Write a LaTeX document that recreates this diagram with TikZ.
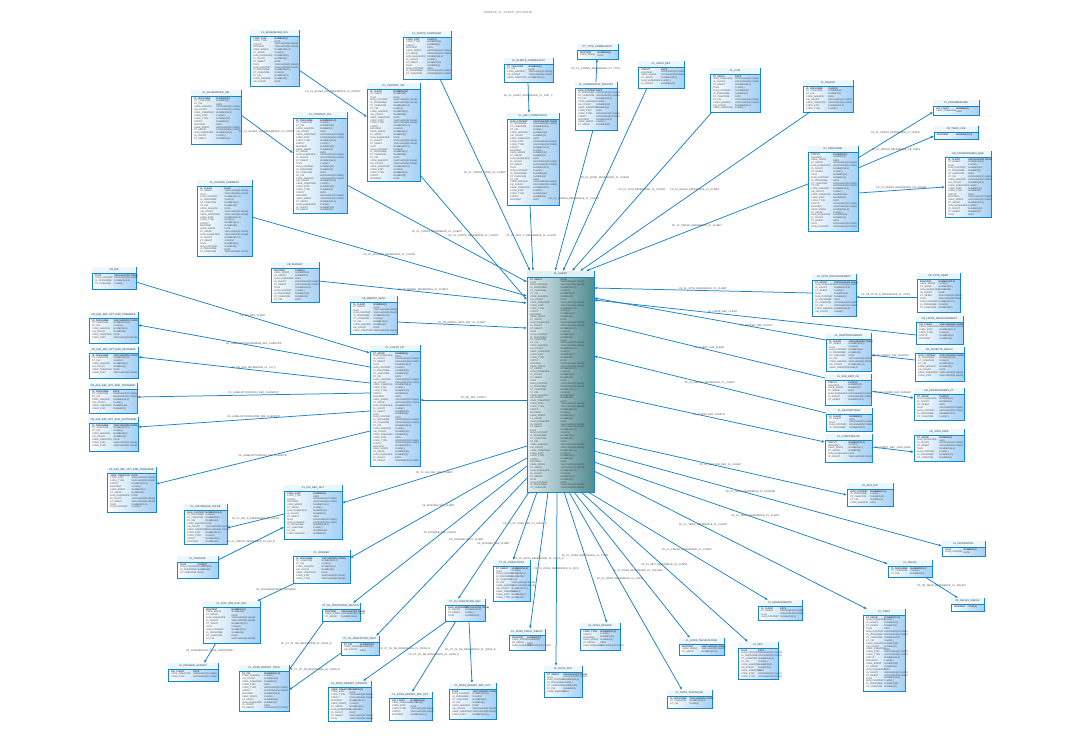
\documentclass[tikz,border=0pt]{standalone}
\usepackage{fontspec}
\setmainfont{Liberation Sans}
\usetikzlibrary{arrows.meta,calc}
\definecolor{tb}{RGB}{20,135,205}
\definecolor{tbl}{RGB}{165,208,245}
\definecolor{tbh}{RGB}{236,246,253}
\definecolor{fkc}{RGB}{25,130,200}
\definecolor{vl}{RGB}{226,238,240}
\definecolor{vr}{RGB}{82,140,146}
\catcode`\_=12
\newcommand\cname[1]{\ifcase#1 ID_CLIENT\or DT_CREATION\or CODE_ETAT\or DT_MODIF\or NUM_CONTRAT\or LIB_COURT\or MONTANT\or DT_DEBUT\or DT_FIN\or CODE_TYPE\or NUM_SEQUENCE\or ID_PERSONNE\or USER_CREATION\or USER_MODIF\or TAUX\or CODE_AGENCE\or STATUT\else ID\fi}
\newcommand\ctype[1]{\ifcase#1 VARCHAR2(50 CHAR)\or DATE\or NUMBER(10)\or NUMBER(15,2)\or VARCHAR2(20 CHAR)\or NUMBER(1)\or CHAR(1)\else DATE\fi}
\tikzset{
  tblbox/.style={draw=tb, line width=0.9pt, left color=white, right color=tbl, anchor=north west, inner sep=0pt, outer sep=0pt},
  tblboxhd/.style={fill=tbh},
  tblboxln/.style={draw=tb, line width=0.4pt},
  vbox/.style={draw=tb, line width=0.9pt, left color=vl, right color=vr, anchor=north west, inner sep=0pt, outer sep=0pt},
  vboxhd/.style={fill=vl},
  vboxln/.style={draw=tb, line width=0.4pt},
  ttl/.style={font=\fontsize{2.5}{3}\selectfont, text=black!80, inner sep=0pt},
  rowt/.style={font=\fontsize{2.3}{2.6}\selectfont, text=black!75, anchor=west, inner sep=0pt},
  lbl/.style={font=\fontsize{2.5}{3}\selectfont, text=black!70, inner sep=0.3pt, anchor=south},
  fk/.style={draw=fkc, line width=0.75pt, -{Latex[length=3.2pt,width=2.6pt]}},
}
\newcommand{\tbl}[7][tblbox]{%
  \node[#1, minimum width=#5pt, minimum height=#6pt] (#2) at (#3,#4) {};
  \fill[#1hd] (#3+0.45,#4+0.45) rectangle (#3+#5-0.45,#4+6);
  \draw[#1ln] (#3,#4+6) -- (#3+#5,#4+6);
  \node[ttl] (#2t) at (#3+#5/2,#4+3.3) {#7};
  \pgfmathtruncatemacro{\nr}{(#6-8)/2.9}%
  \foreach \i in {1,...,\nr}{%
    \pgfmathtruncatemacro{\k}{mod(\i*7+#3,17)}%
    \pgfmathtruncatemacro{\m}{mod(\i*3+#4,7)}%
    \pgfmathsetmacro{\ry}{#4+7+(\i-0.5)*2.9}%
    \node[rowt] (#2n\i) at (#3+3,\ry) {\ifnum\i=1 \bfseries\fi\cname{\k}};
    \node[rowt] (#2y\i) at (#3+#5*0.5,\ry) {\ifnum\i=1 \bfseries\fi\ctype{\m}};
  }%
}
\begin{document}
\begin{tikzpicture}[x=1pt,y=-1pt]
\fill[white] (0,0) rectangle (1081,745);
\useasboundingbox (0,0) rectangle (1081,745);
\node[font=\fontsize{3}{3.5}\selectfont, text=black!50] (title) at (508,13) {MODELE_CL_CLIENT_PHYSIQUE};

% tables
\tbl{A}{250}{30}{49}{56}{CL_ECHEANCIER_DIS}
\tbl{B}{403}{31}{48}{48}{CL_CONTR_COMPARAIT}
\tbl{C}{191}{90}{50}{54}{CL_ECHEANCIER_SIN}
\tbl{D}{367}{83}{53}{98}{CL_CONTRAT_SIN}
\tbl{E}{293}{112}{54}{101}{CL_CONTRAT_DIS}
\tbl{F}{504}{58}{49}{24}{CL_ALERTE_COMMUNICAT}
\tbl{G}{577}{44}{41}{15}{CT_TYPE_COMMUNICAT}
\tbl{H}{575}{82}{42}{48}{CL_COMMUNICAT_PRESTAT}
\tbl{I}{507}{113}{52}{92}{CL_HIST_COMMUNICAT}
\tbl{J}{638}{61}{46}{27}{CL_AVOIR_REF}
\tbl{K}{710}{68}{50}{44}{CL_CCM}
\tbl{L}{803}{80}{50}{32}{CL_RELEVE}
\tbl{M}{933}{100}{46}{15}{CT_INTERMEDIAIRE}
\tbl{N}{934}{126}{44}{13}{CB_TIERS_CRE}
\tbl{O}{945}{151}{46}{66}{CB_COORDONNEES_BQE}
\tbl{P}{808}{146}{50}{85}{CL_PERSONNE}
\tbl{Q}{197}{180}{55}{76}{CL_ACCORD_PAIEMENT}
\tbl{R}{271}{262}{48}{40}{CB_MANDAT}
\tbl{S}{92}{267}{44}{22}{CB_RIB}
\tbl{T}{350}{296}{47}{38}{CB_MANDAT_SEPA}
\tbl{U}{370}{345}{50}{121}{CL_CLIENT_FIP}
\tbl[vbox]{V}{527}{271}{67}{221}{CL_CLIENT}
\tbl{W}{89}{312}{49}{31}{CB_AAA_REF_OPT_ENR_PREMIERE}
\tbl{X}{89}{347}{49}{31}{CB_AAA_REF_OPT_ENR_DEUXIEME}
\tbl{Y}{89}{383}{48}{30}{CB_AAA_REF_OPT_ENR_TROISIEME}
\tbl{Z}{89}{417}{49}{34}{CB_AAA_REF_OPT_ENR_QUATRIEME}
\tbl{AA}{107}{467}{49}{45}{CB_AAA_REF_OPT_ENR_CINQUIEME}
\tbl{AB}{184}{504}{43}{40}{CL_HISTORIQUE_SOLDE}
\tbl{AC}{284}{485}{58}{54}{CL_HIS_DEC_OUT}
\tbl{AD}{177}{556}{41}{22}{CL_CREANCE}
\tbl{AE}{293}{550}{57}{33}{CL_DOSSIER}
\tbl{AF}{203}{601}{57}{42}{CL_DOS_OPE_DOC_REJ}
\tbl{AG}{168}{663}{50}{18}{CL_DOSSIER_SUIVANT}
\tbl{AH}{239}{665}{50}{46}{CL_DOSS_REPART_TRAN}
\tbl{AI}{322}{603}{38}{18}{CT_OL_PRESTATION_RECOUV}
\tbl{AJ}{341}{636}{38}{19}{CT_OL_PRESTATION_DECT}
\tbl{AK}{328}{681}{43}{40}{CL_DOSS_REPART_CONTENT}
\tbl{AL}{389}{692}{43}{28}{CL_DOSS_REPART_DEP_ACT}
\tbl{AM}{449}{683}{47}{36}{CL_DOSS_REPART_DEP_AUT}
\tbl{AN}{445}{599}{40}{22}{CT_OL_PRESTATION_REC}
\tbl{AO}{493}{560}{37}{41}{CT_OL_PRESTATION}
\tbl{AP}{509}{629}{36}{21}{CL_DOSS_PREST_REDUC}
\tbl{AQ}{544}{666}{38}{31}{CL_DOSS_RCK}
\tbl{AR}{580}{623}{40}{27}{CL_DOSS_RTEBOR}
\tbl{AS}{679}{638}{45}{17}{CL_DOSS_TECHNOLOGIE}
\tbl{AT}{667}{690}{45}{18}{CL_DOSS_TECHNIQUE}
\tbl{AU}{738}{642}{40}{37}{CL_MDT}
\tbl{AV}{758}{600}{44}{20}{CL_ENGAGEMENTS}
\tbl{AW}{812}{274}{44}{42}{CL_CPTE_RECOUVREMENT}
\tbl{AX}{917}{273}{43}{39}{CB_CPTE_DEBIT}
\tbl{AY}{916}{316}{47}{28}{CB_LIMITE_RECOUVREMENT}
\tbl{AZ}{915}{347}{49}{34}{CB_ASSIETTE_REDUC}
\tbl{BA}{826}{333}{45}{38}{CL_RAPPROCHEMENT}
\tbl{BB}{825}{374}{46}{31}{CL_SUB_EMIT_CE}
\tbl{BC}{914}{388}{50}{32}{CB_COORDONNEES_CT}
\tbl{BD}{826}{408}{46}{23}{CL_DECOMPTENG}
\tbl{BE}{825}{434}{47}{28}{CL_COMPTABILITE}
\tbl{BF}{914}{429}{50}{32}{CB_JOUR_EMIS}
\tbl{BG}{847}{483}{46}{23}{CL_SEG_RIO}
\tbl{BH}{942}{541}{43}{15}{CL_INCIDENTPAL}
\tbl{BI}{888}{560}{44}{17}{CL_DELAIS}
\tbl{BJ}{951}{598}{33}{13}{CB_DELAIS_SIMULE}
\tbl{BK}{863}{609}{42}{82}{CL_TIERS}

% connectors
\draw[fk] (A.east |- 0,70) -- node[lbl,pos=.5] (l1) {FK_CL_ECHEA_DIS_REFERENCE_CL_CONTR} (D.west |- 0,117);
\draw[fk] (C.east |- 0,115) -- node[lbl,pos=.5] (l2) {FK_CL_ECHEA_SIN_REFERENCE_CL_CONTR} (E.west |- 0,153);
\draw[fk] (B.south -| 440,0) -- node[lbl,pos=.5] (l3) {FK_CL_CONTR_COMP_CL_CLIENT} (V.north -| 530,0);
\draw[fk] (D.east |- 0,175) -- node[lbl,pos=.5] (l4) {FK_CL_CONTR_REFERENCE_CL_CLIENT} (V.west |- 0,300);
\draw[fk] (E.east |- 0,185) -- node[lbl,pos=.5] (l5) {FK_CL_CONTR_REFERENCE_CL_CLIENT} (V.west |- 0,282);
\draw[fk] (Q.east |- 0,217) -- node[lbl,pos=.5] (l6) {FK_CL_ACCORD_REFERENCE_CL_CLIENT} (V.west |- 0,296);
\draw[fk] (F.south -| 528,0) -- node[lbl,pos=.5] (l7) {FK_CL_ALERT_REFERENCE_CL_HIST_C} (I.north -| 529,0);
\draw[fk] (H.north -| 596,0) -- node[lbl,pos=.5] (l8) {FK_CL_COMMU_REFERENCE_CT_TYPE_} (G.south -| 597,0);
\draw[fk] (I.south -| 530,0) -- node[lbl,pos=.5] (l9) {FK_CL_HIST_C_REFERENCE_CL_CLIENT} (V.north -| 533,0);
\draw[fk] (H.south -| 593,0) -- node[lbl,pos=.5] (l10) {FK_CL_COMMU_REFERENCE_CL_CLIENT} (V.north -| 555,0);
\draw[fk] (J.south -| 647,0) -- node[lbl,pos=.5] (l11) {FK_CL_AVOIR_REFERENCE_CL_CLIENT} (V.north -| 563,0);
\draw[fk] (K.south -| 712,0) -- node[lbl,pos=.5] (l12) {FK_CL_CCM_REFERENCE_CL_CLIENT} (V.north -| 572,0);
\draw[fk] (L.south -| 810,0) -- node[lbl,pos=.5] (l13) {FK_CL_RELEV_REFERENCE_CL_CLIENT} (V.north -| 580,0);
\draw[fk] (P.west |- 0,184) -- node[lbl,pos=.5] (l14) {FK_CL_PERSO_REFERENCE_CL_CLIENT} (V.north -| 586,0);
\draw[fk] (P.east |- 0,158) -- node[lbl,pos=.5] (l15) {FK_CL_PERSO_REFERENCE_CT_INTER} (M.west |- 0,112);
\draw[fk] (P.east |- 0,168) -- node[lbl,pos=.5] (l16) {FK_CL_PERSO_REFERENCE_CB_TIERS} (N.west |- 0,136);
\draw[fk] (P.east |- 0,193) -- node[lbl,pos=.5] (l17) {FK_CL_PERSO_REFERENCE_CB_COORD} (O.west |- 0,187);

\draw[fk] (AW.west |- 0,293) -- node[lbl,pos=.5] (l18) {FK_CL_CPTE_REFERENCE_CL_CLIENT} (V.east |- 0,288);
\draw[fk] (AX.west |- 0,297) -- node[lbl,pos=.5] (l19) {FK_CB_CPTE_D_REFERENCE_CL_CPTE_} (AW.east |- 0,297);
\draw[fk] (AY.west |- 0,335) -- node[lbl,pos=.6] (l20) {FK_LIMITE_REF_CLIENT} (V.east |- 0,300);
\draw[fk] (BA.west |- 0,340) -- node[lbl,pos=.3] (l21) {FK_RAPPRO_REF_CLIENT} (V.east |- 0,298);
\draw[fk] (BB.west |- 0,378) -- node[lbl,pos=.5] (l22) {FK_CLIENT_SUB_CLIENT} (V.east |- 0,322);
\draw[fk] (AZ.west |- 0,360) -- node[lbl,pos=.5] (l23) {FK_ASSIET_REF_RAPPRO} (BA.east |- 0,355);
\draw[fk] (BB.east |- 0,391) -- node[lbl,pos=.5] (l24) {FK_CB_COORD_REF_SUBEMI} (BC.west |- 0,398);
\draw[fk] (BD.west |- 0,413) -- node[lbl,pos=.5] (l25) {FK_CL_DECOM_REFERENCE_CL_CLIENT} (V.east |- 0,356);
\draw[fk] (V.east |- 0,392) -- node[lbl,pos=.5] (l26) {FK_CLIENT_REF_COMPTA} (BE.west |- 0,442);
\draw[fk] (BE.east |- 0,447) -- node[lbl,pos=.5] (l27) {FK_COMPT_REF_JOUR_EMIS} (BF.west |- 0,452);
\draw[fk] (V.east |- 0,438) -- node[lbl,pos=.5] (l28) {FK_CL_SEG_RIO_REF_CL_CLIENT} (BG.west |- 0,495);
\draw[fk] (V.east |- 0,451) -- node[lbl,pos=.45] (l29) {FK_CL_INCID_REFERENCE_CL_PERSON} (BH.west |- 0,546);
\draw[fk] (V.east |- 0,462) -- node[lbl,pos=.55] (l30) {FK_CL_DELAI_REFERENCE_CL_CLIENT} (BI.west |- 0,564);
\draw[fk] (BI.south -| 925,0) -- node[lbl,pos=.5] (l31) {FK_CB_DELAI_REFERENCE_CL_DELAIS} (BJ.north -| 958,0);
\draw[fk] (V.east |- 0,471) -- node[lbl,pos=.4] (l32) {FK_CL_TIERS_REFERENCE_CL_CLIENT} (BK.north -| 867,0);

\draw[fk] (V.south -| 588,0) -- node[lbl,pos=.55] (l33) {FK_CL_ENGAG_REFERENCE_CL_CLIENT} (AV.north -| 768,0);
\draw[fk] (V.south -| 581,0) -- node[lbl,pos=.5] (l34) {FK_CL_MDT_REFERENCE_CL_CLIENT} (AU.north -| 748,0);
\draw[fk] (V.south -| 574,0) -- node[lbl,pos=.55] (l35) {FK_CL_DOSS_REFERENCE_CL_TECHNO} (AS.north -| 690,0);
\draw[fk] (V.south -| 569,0) -- node[lbl,pos=.45] (l36) {FK_CL_DOSS_REFERENCE_CL_TECH} (AT.north -| 682,0);
\draw[fk] (V.south -| 564,0) -- node[lbl,pos=.5] (l37) {FK_CL_DOSS_REFERENCE_CL_TOTAL} (AR.north -| 607,0);
\draw[fk] (V.south -| 557,0) -- node[lbl,pos=.45] (l38) {FK_CL_DOSS_REFERENCE_CL_RCK} (AQ.north -| 556,0);
\draw[fk] (V.south -| 548,0) -- node[lbl,pos=.5] (l39) {FK_CL_DOSS_REFERENCE_CL_DOSS_R} (AP.north -| 530,0);
\draw[fk] (V.south -| 537,0) -- node[lbl,pos=.5] (l40) {FK_CT_OL_PRES_REF_CL_DOSS_S} (AO.north -| 513,0);
\draw[fk] (V.south -| 529,0) -- node[lbl,pos=.5] (l41) {FK_DOSSIER_REF_CLIENT} (AN.north -| 458,0);
\draw[fk] (V.west |- 0,478) -- node[lbl,pos=.4] (l42) {FK_DOSSIER_DECT_CLIENT} (AJ.north -| 376,0);
\draw[fk] (V.west |- 0,466) -- node[lbl,pos=.5] (l43) {FK_DOSSIER_REF_CLIENT} (AI.north -| 353,0);
\draw[fk] (V.west |- 0,458) -- node[lbl,pos=.5] (l44) {FK_DOSSIER_REF_CLIENT} (AE.east |- 0,558);
\draw[fk] (V.west |- 0,446) -- node[lbl,pos=.5] (l45) {FK_CL_HIS_DEC_REF_CLIENT} (AC.east |- 0,503);
\draw[fk] (V.west |- 0,400) -- node[lbl,pos=.5] (l46) {FK_FIP_REF_CLIENT} (U.east |- 0,400);

\draw[fk] (R.east |- 0,281) -- node[lbl,pos=.5] (l47) {FK_CB_MANDA_REFERENCE_CL_CLIENT} (V.west |- 0,303);
\draw[fk] (T.east |- 0,322) -- node[lbl,pos=.5] (l48) {FK_CB_MANDA_SEPA_REF_CL_CLIENT} (V.west |- 0,328);
\draw[fk] (S.east |- 0,282) -- node[lbl,pos=.5] (l49) {FK_RIB_REF_CLIENT} (U.west |- 0,353);
\draw[fk] (U.west |- 0,367) -- node[lbl,pos=.5] (l50) {FK_LABELOPTIONPREMIERE_REF_CLIENTFIP} (W.east |- 0,325);
\draw[fk] (U.west |- 0,383) -- node[lbl,pos=.5] (l51) {FK_CB_AAA_REFERENCE_CL_CLI_F} (X.east |- 0,357);
\draw[fk] (U.west |- 0,393) -- node[lbl,pos=.5] (l52) {FK_LABELOPTIONTROIS_REF_CLIENTFIP} (Y.east |- 0,397);
\draw[fk] (U.west |- 0,411) -- node[lbl,pos=.5] (l53) {FK_LABELOPTIONQUATRE_REF_CLIENTFIP} (Z.east |- 0,427);
\draw[fk] (U.west |- 0,431) -- node[lbl,pos=.5] (l54) {FK_LABELOPTIONCINQ_REF_CLIENTFIP} (AA.east |- 0,484);
\draw[fk] (AC.west |- 0,514) -- node[lbl,pos=.5] (l55) {FK_CL_HIS_D_REFERENCE_CL_HISTO} (AB.east |- 0,528);
\draw[fk] (AD.east |- 0,560) -- node[lbl,pos=.5] (l56) {FK_CL_CREAN_REFERENCE_CL_HIS_D} (AC.west |- 0,527);
\draw[fk] (AE.south -| 295,0) -- node[lbl,pos=.5] (l57) {FK_DOSSIEROPEDOC_DOSSIER} (AF.north -| 257,0);
\draw[fk] (AF.south -| 216,0) -- node[lbl,pos=.5] (l58) {FK_DOSSIERSUIV_DOSS_OPEDOCREJ} (AG.north -| 204,0);
\draw[fk] (AI.south -| 324,0) -- node[lbl,pos=.5] (l59) {FK_CT_OL_RE_REFERENCE_CL_DOSS_R} (AH.east |- 0,670);
\draw[fk] (AJ.west |- 0,653) -- node[lbl,pos=.5] (l60) {FK_CT_OL_DE_REFERENCE_CL_DOSS_R} (AH.east |- 0,690);
\draw[fk] (AN.south -| 447,0) -- node[lbl,pos=.5] (l61) {FK_CT_OL_RE_REFERENCE_CL_DOSS_R} (AK.north -| 363,0);
\draw[fk] (AN.south -| 456,0) -- node[lbl,pos=.5] (l62) {FK_CT_OL_RE_REFERENCE_CL_DOSS_R} (AL.north -| 412,0);
\draw[fk] (AN.south -| 469,0) -- node[lbl,pos=.5] (l63) {FK_CT_OL_RE_REFERENCE_CL_DOSS_R} (AM.north -| 472,0);
\end{tikzpicture}
\end{document}
